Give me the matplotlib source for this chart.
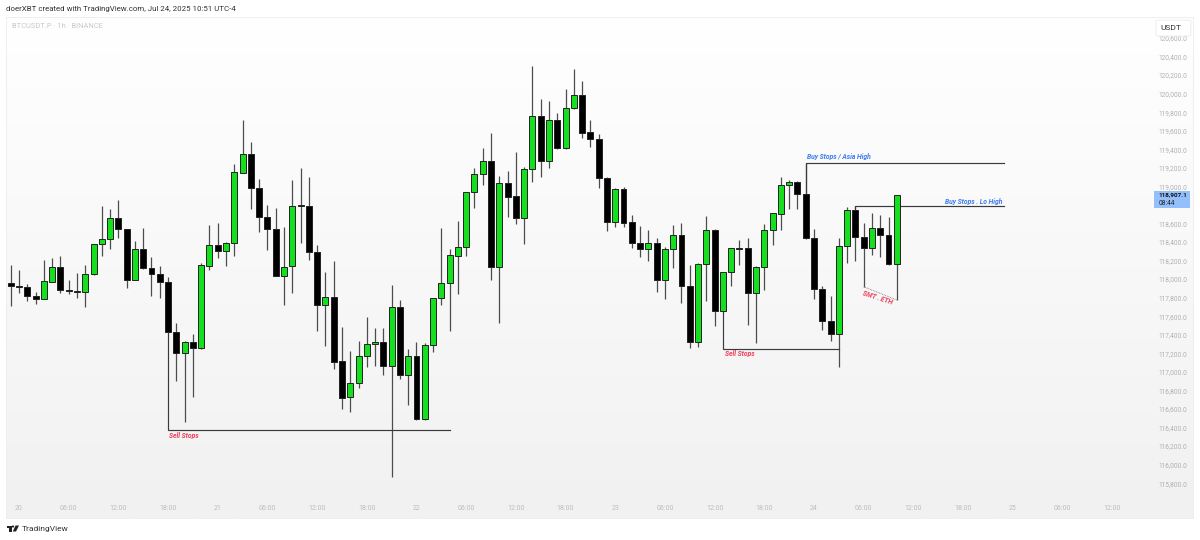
import numpy as np
import matplotlib
matplotlib.use("Agg")
import matplotlib.pyplot as plt
from matplotlib.colors import LinearSegmentedColormap
from matplotlib.patches import Rectangle, FancyBboxPatch, Circle, Polygon

plt.rcParams['font.family'] = ['Roboto', 'DejaVu Sans']

# hourly candles, BTCUSDT.P
opens = [117953, 117926, 117912, 117818, 117789, 117972, 118127, 117886, 117872, 117861, 118052, 118375,
         118429, 118662, 118537, 117994, 118322, 118123, 118059, 117972, 117433, 117207, 117322, 117254,
         118145, 118365, 118300, 118393, 119147, 119346, 118982, 118670, 118544, 118037, 118138, 118796,
         118788, 118292, 117718, 117811, 117117, 116726, 116883, 117168, 117297, 117322, 117067, 117696,
         116970, 117168, 116492, 117287, 117793, 117955, 118253, 118350, 118936, 119137, 119277, 118127,
         119039, 118896, 118656, 119184, 119762, 119273, 119712, 119413, 119842, 119985, 119583, 119511,
         119087, 118613, 118972, 118613, 118393, 118322, 118386, 117994, 118322, 118476, 117926, 117325,
         118160, 118526, 117660, 118074, 118336, 118336, 117847, 118134, 118530, 118705, 119018, 119052,
         118918, 118440, 117897, 117552, 117412, 118361, 118742, 118458, 118339, 118554, 118472, 118160]
highs = [118152, 118098, 117947, 117861, 118206, 118228, 118253, 117987, 118066, 118152, 118380, 118792,
         118756, 118853, 118545, 118414, 118548, 118242, 118141, 118020, 117524, 117330, 117405, 118171,
         118580, 118608, 118400, 119241, 119715, 119481, 119076, 118799, 118770, 118562, 119069, 119195,
         119104, 118371, 118074, 118192, 117484, 117225, 117336, 117592, 117473, 117473, 117937, 117775,
         117243, 117322, 117315, 117800, 118548, 118322, 118630, 118943, 119195, 119417, 119572, 119112,
         119162, 119367, 119212, 120297, 119939, 119923, 119788, 120050, 120262, 120139, 119712, 119561,
         119098, 118980, 118990, 118691, 118573, 118530, 118440, 118350, 118580, 118608, 118156, 118170,
         118680, 118535, 118080, 118340, 118422, 118440, 118141, 118591, 118718, 119098, 119069, 119060,
         119252, 118537, 117926, 117818, 118440, 118774, 118783, 118608, 118709, 118691, 118673, 118910]
lows = [117714, 117854, 117767, 117735, 117785, 117965, 117854, 117843, 117800, 117703, 118045, 118253,
        118325, 118447, 117908, 117988, 118110, 117821, 117800, 117425, 116905, 116457, 116732, 117250,
        118098, 118231, 118141, 118253, 119140, 118753, 118508, 118314, 118030, 117721, 117847, 118393,
        118206, 117438, 117282, 117031, 116603, 116568, 116823, 117056, 117063, 116970, 115867, 116920,
        116643, 116485, 116485, 117218, 117721, 117438, 117840, 118253, 118767, 119015, 117991, 117527,
        118666, 118598, 118375, 119044, 119098, 119201, 119405, 119405, 119834, 119525, 119421, 118979,
        118522, 118565, 118565, 118339, 118235, 118192, 117864, 117783, 118117, 117746, 117254, 117265,
        117764, 117498, 117650, 117926, 118152, 117505, 117315, 117883, 118368, 118530, 118753, 118753,
        118429, 117789, 117448, 117330, 117050, 118171, 118199, 117918, 118260, 118235, 118155, 117775]
closes = [117926, 117912, 117815, 117789, 117977, 118127, 117883, 117869, 117861, 118052, 118375, 118429,
          118662, 118537, 117994, 118322, 118117, 118055, 117972, 117433, 117207, 117322, 117254, 118149,
          118365, 118300, 118393, 119152, 119346, 118982, 118670, 118544, 118037, 118134, 118792, 118788,
          118292, 117718, 117811, 117110, 116722, 116883, 117171, 117301, 117319, 117067, 117696, 116970,
          117168, 116492, 117287, 117793, 117955, 118257, 118350, 118936, 119137, 119277, 118127, 119039,
          118889, 118656, 119184, 119762, 119273, 119712, 119413, 119845, 119985, 119578, 119511, 119087,
          118613, 118972, 118602, 118389, 118322, 118386, 117994, 118322, 118476, 117926, 117325, 118163,
          118526, 117660, 118074, 118332, 118328, 117847, 118134, 118530, 118710, 119018, 119050, 118918,
          118440, 117897, 117545, 117408, 118357, 118742, 118451, 118339, 118554, 118472, 118160, 118907.1]

price_ticks = [115800, 116000, 116200, 116400, 116600, 116800, 117000, 117200, 117400, 117600, 117800, 118000,
               118200, 118400, 118600, 119000, 119200, 119400, 119600, 119800, 120000, 120200, 120400, 120600]
time_ticks = [1, 7, 13, 19, 25, 31, 37, 43, 49, 55, 61, 67, 73, 79, 85, 91, 97, 103, 109, 115, 121, 127, 133]
time_labels = ['20', '06:00', '12:00', '18:00', '21', '06:00', '12:00', '18:00', '22', '06:00', '12:00', '18:00',
               '23', '06:00', '12:00', '18:00', '24', '06:00', '12:00', '18:00', '25', '06:00', '12:00']
last_price = 118907.1

GREEN = '#16df20'
RED = '#ee4059'
BLUE = '#3b7cf0'
LINE = '#3a3a3a'

fig = plt.figure(figsize=(12, 5.4), dpi=100, facecolor='white')
ax = fig.add_axes([6 / 1200, 1 - 517.5 / 540, 1187 / 1200, 500.5 / 540])

# pane background, white fading to light gray
cmap = LinearSegmentedColormap.from_list('bg', ['#ffffff', '#f1f1f1'], N=256)
ax.imshow(np.linspace(0, 1, 256).reshape(-1, 1), cmap=cmap, aspect='auto', extent=(0, 1, 0, 1),
          transform=ax.transAxes, zorder=0)

xs = np.arange(len(opens))
ax.vlines(xs, lows, highs, color='#4d4d4d', lw=0.9, zorder=2)
for i in xs:
    bottom = min(opens[i], closes[i])
    height = max(abs(closes[i] - opens[i]), 6)
    color = GREEN if closes[i] >= opens[i] else 'black'
    ax.bar(i, height, bottom=bottom, width=0.72, color=color, edgecolor='#222222', linewidth=0.7, zorder=3)

# drawn levels
ax.plot([19, 19, 53.05], [117430, 116374, 116374], color=LINE, lw=0.85, zorder=2, solid_joinstyle='miter')
ax.plot([86, 86, 100], [117660, 117247, 117247], color=LINE, lw=0.85, zorder=2, solid_joinstyle='miter')
ax.plot([96, 96, 119.9], [118918, 119255, 119255], color=LINE, lw=0.85, zorder=2, solid_joinstyle='miter')
ax.plot([102, 102, 119.9], [118742, 118783, 118783], color=LINE, lw=0.85, zorder=2, solid_joinstyle='miter')
ax.plot([103, 107], [117918, 117775], color='#777777', lw=0.6, ls=(0, (1, 1)), zorder=2)

note = dict(fontsize=4.9, style='italic', fontweight='bold', va='center')
ax.text(19.1, 116309, 'Sell Stops', color=RED, ha='left', **note)
ax.text(86.25, 117193, 'Sell Stops', color=RED, ha='left', **note)
ax.text(96.15, 119317, 'Buy Stops / Asia High', color=BLUE, ha='left', **note)
ax.text(119.8, 118842, 'Buy Stops . Lo High', color=BLUE, ha='right', **note)
ax.text(104.7, 117807, 'SMT . ETH', color=RED, ha='center', rotation=-18, rotation_mode='anchor', **note)

ax.set_xlim(-0.57, 142.77)
ax.set_ylim(115430, 120826)

ax.set_xticks(time_ticks)
ax.set_xticklabels(time_labels)
ax.set_yticks(price_ticks)
ax.set_yticklabels([f'{p:,.0f}.0' for p in price_ticks])
ax.yaxis.tick_right()
ax.tick_params(axis='x', length=0, pad=-9, labelsize=5, labelcolor='#bdbdbd')
ax.tick_params(axis='y', length=0, pad=-25, labelsize=4.7, labelcolor='#b0b0b0')
for spine in ax.spines.values():
    spine.set_color('#eeeeee')
    spine.set_linewidth(0.7)

# last price tag and currency box
ax.add_patch(Rectangle((138.05, 118767), 4.35, 183, facecolor='#93bffb', edgecolor='none', zorder=5))
ax.text(138.65, 118905, f'{last_price:,.1f}', fontsize=4.6, fontweight='bold', color='#111111', va='center', zorder=6)
ax.text(138.65, 118815, '08:44', fontsize=4.7, color='#222222', va='center', zorder=6)
ax.add_patch(FancyBboxPatch((138.3, 120621), 4.2, 172, boxstyle='round,pad=0,rounding_size=0.3', mutation_aspect=40,
                            facecolor='white', edgecolor='#eeeeee', linewidth=0.7, zorder=5))
ax.text(140.1, 120707, 'USDT', fontsize=6, color='#333333', ha='center', va='center', zorder=6)

fig.text(6 / 1200, 1 - 9.5 / 540, 'doerXBT created with TradingView.com, Jul 24, 2025 10:51 UTC-4',
         fontsize=5.7, color='#333333', va='center')
fig.text(11.5 / 1200, 1 - 27 / 540, 'BTCUSDT.P · 1h · BINANCE', fontsize=5.4, color='#c8c8c8', va='center')
fig.text(21.5 / 1200, 1 - 529 / 540, 'TradingView', fontsize=6, color='#333333', va='center')

# TradingView logo, drawn in figure pixels
logo = fig.add_axes([0, 0, 1, 1], facecolor='none')
logo.set_xlim(0, 1200)
logo.set_ylim(540, 0)
logo.axis('off')
logo.add_patch(Polygon([(6.5, 525.5), (11.5, 525.5), (11.5, 531.5), (9, 531.5), (9, 527.5), (6.5, 527.5)], color='#222222', lw=0))
logo.add_patch(Circle((13, 526.5), 1.1, color='#222222', lw=0))
logo.add_patch(Polygon([(15.5, 525.5), (19, 525.5), (16, 531.5), (12.8, 531.5)], color='#222222', lw=0))

fig.savefig('out.png', dpi=100)
